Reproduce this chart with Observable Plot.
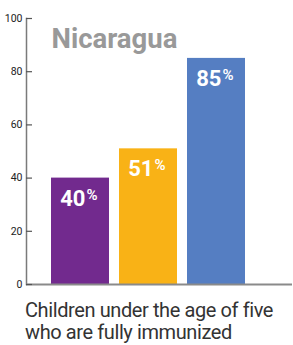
<!DOCTYPE html>
<html>
<head>
<meta charset="utf-8">
<script src="https://cdn.jsdelivr.net/npm/d3@7"></script>
<script src="https://cdn.jsdelivr.net/npm/@observablehq/plot@0.6"></script>
<style>
  html, body { margin: 0; padding: 0; background: #fff; }
  #caption { font-family: Roboto, "Noto Sans", sans-serif; font-size: 20px; line-height: 22px; color: #333; margin: 5px 0 0 25px; letter-spacing: -0.4px; white-space: nowrap; }
</style>
</head>
<body>
<div id="chart"></div>
<div id="caption">Children under the age of five<br>who are fully immunized</div>
<script>
const categories = ["A", "B", "C"];
const values = [40, 51, 85];
const colors = ["#722a8e", "#f9b216", "#557ec2"];
const yTicks = [0, 20, 40, 60, 80, 100];
const title = "Nicaragua";

const data = categories.map((c, i) => ({cat: c, value: values[i], color: colors[i]}));

const chart = Plot.plot({
  width: 293,
  height: 294,
  marginLeft: 26,
  marginRight: 1,
  marginTop: 18,
  marginBottom: 10,
  style: {fontFamily: "Roboto, 'Noto Sans', sans-serif", background: "#fff"},
  x: {domain: categories, range: [46, 250], paddingInner: 10 / 68, paddingOuter: 5 / 68, axis: null},
  y: {domain: [0, 100]},
  marks: [
    Plot.barY(data, {x: "cat", y: "value", fill: "color"}),
    Plot.frame({anchor: "left", stroke: "#7a7a7a", strokeWidth: 1.5}),
    Plot.ruleY([0], {stroke: "#8a8a8a", strokeWidth: 2}),
    Plot.axisY({ticks: yTicks, tickSize: 6, dx: 6, text: null, label: null, stroke: "#555", strokeWidth: 1.2}),
    Plot.axisY({ticks: yTicks, tickSize: 0, tickPadding: 4, label: null, fontSize: 10.5, fill: "#222", tickFormat: d => String(d)}),
    Plot.text(data, {x: "cat", y: "value", text: d => String(d.value), dx: 5, dy: 12, lineAnchor: "top", textAnchor: "end", fill: "#fff", fontSize: 22, fontWeight: "bold"}),
    Plot.text(data, {x: "cat", y: "value", text: () => "%", dx: 6, dy: 11, lineAnchor: "top", textAnchor: "start", fill: "#fff", fontSize: 15, fontWeight: 600}),
    Plot.text([title], {x: () => "A", y: () => 100, text: d => d, dx: -29, dy: 10, lineAnchor: "top", textAnchor: "start", fill: "#999", fontSize: 27.5, fontWeight: "bold"})
  ]
});
document.getElementById("chart").appendChild(chart);
</script>
</body>
</html>
